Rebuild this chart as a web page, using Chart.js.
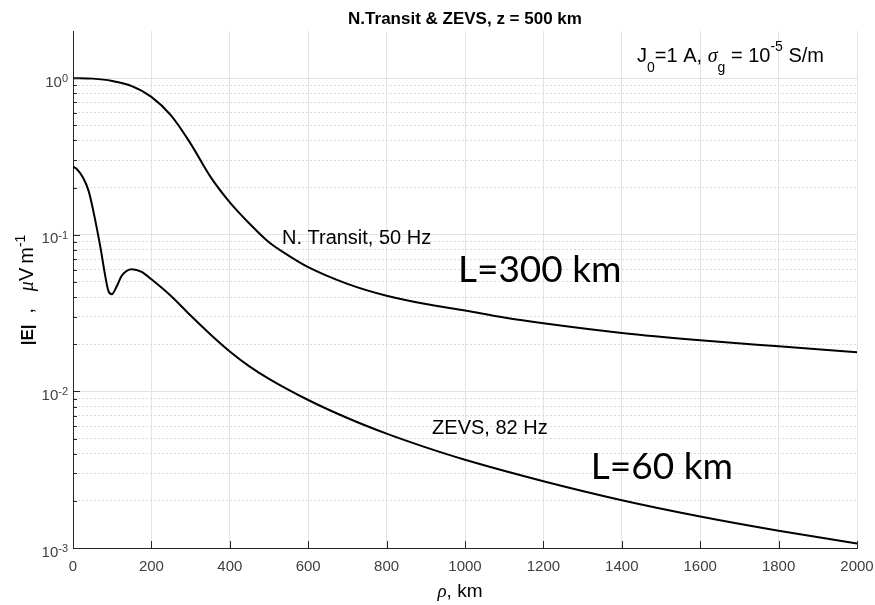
<!DOCTYPE html>
<html>
<head>
<meta charset="utf-8">
<script src="https://cdn.jsdelivr.net/npm/chart.js@4.4.1/dist/chart.umd.min.js"></script>
<style>
  html, body { margin: 0; padding: 0; background: #fff; }
</style>
</head>
<body>
<canvas id="chart" width="875" height="605"></canvas>
<script>
// distance rho (km) and |E| (uV/m)
const rhoTransit = [0, 50, 100, 150, 200, 250, 300, 350, 400, 450, 500, 550, 600, 700, 800, 900, 1000, 1100, 1200, 1400, 1600, 1800, 2000];
const eTransit = [1.0, 0.993, 0.96, 0.89, 0.759, 0.578, 0.382, 0.236, 0.161, 0.118, 0.0895, 0.0736, 0.0621, 0.0486, 0.0408, 0.0361, 0.0328, 0.0296, 0.0272, 0.0236, 0.0212, 0.0194, 0.0178];

const rhoZevs = [0, 10, 25, 40, 55, 70, 82, 90, 99, 110, 125, 150, 175, 200, 250, 300, 350, 400, 450, 500, 600, 700, 800, 900, 1000, 1200, 1400, 1600, 1800, 2000];
const eZevs = [0.272, 0.262, 0.233, 0.19, 0.13, 0.083, 0.055, 0.044, 0.0417, 0.046, 0.055, 0.0603, 0.058, 0.052, 0.0407, 0.0305, 0.0232, 0.018, 0.01445, 0.01202, 0.00881, 0.00676, 0.00537, 0.00439, 0.00366, 0.00267, 0.00202, 0.00159, 0.00129, 0.00107];

const xTicks = [0, 200, 400, 600, 800, 1000, 1200, 1400, 1600, 1800, 2000];
const yMajorTicks = [0.001, 0.01, 0.1, 1];
const yMinorTicks = [0.002, 0.003, 0.004, 0.005, 0.006, 0.007, 0.008, 0.009,
                     0.02, 0.03, 0.04, 0.05, 0.06, 0.07, 0.08, 0.09,
                     0.2, 0.3, 0.4, 0.5, 0.6, 0.7, 0.8, 0.9];

const SANS = "'Liberation Sans', Arial, Helvetica, sans-serif";
const GREEK = "'Liberation Serif', 'DejaVu Serif', serif";
const AXIS_COLOR = '#262626';

function isMajor(v) {
    const l = Math.log10(v);
    return Math.abs(l - Math.round(l)) < 1e-9;
}

// draw a run of text pieces: [text, font, dy]
function drawRich(ctx, parts, x, y, align) {
    let w = 0;
    parts.forEach(p => { ctx.font = p[1]; w += ctx.measureText(p[0]).width; });
    let cx = align === 'center' ? x - w / 2 : (align === 'right' ? x - w : x);
    ctx.textAlign = 'left';
    ctx.textBaseline = 'alphabetic';
    parts.forEach(p => {
        ctx.font = p[1];
        ctx.fillText(p[0], cx, y + (p[2] || 0));
        cx += ctx.measureText(p[0]).width;
    });
}

// MATLAB-style decorations: inward ticks, 10^n labels, titles and notes
const figureText = {
    id: 'figureText',
    afterDraw(chart) {
        const ctx = chart.ctx;
        const area = chart.chartArea;
        const xs = chart.scales.x;
        const ys = chart.scales.y;
        ctx.save();

        // inward tick marks
        ctx.strokeStyle = AXIS_COLOR;
        ctx.lineWidth = 1;
        ctx.beginPath();
        xs.ticks.forEach(t => {
            const px = Math.round(xs.getPixelForValue(t.value)) + 0.5;
            ctx.moveTo(px, area.bottom);
            ctx.lineTo(px, area.bottom - 7);
        });
        ys.ticks.forEach(t => {
            const py = Math.round(ys.getPixelForValue(t.value)) + 0.5;
            const len = isMajor(t.value) ? 7 : 4;
            ctx.moveTo(area.left, py);
            ctx.lineTo(area.left + len, py);
        });
        ctx.stroke();

        // y tick labels 10^n
        ctx.fillStyle = '#404040';
        yMajorTicks.forEach(v => {
            const py = ys.getPixelForValue(v);
            const e = String(Math.round(Math.log10(v)));
            drawRich(ctx, [['10', '15px ' + SANS], [e, '11px ' + SANS, -4.5]], area.left - 5, py + 8.5, 'right');
        });

        ctx.fillStyle = '#000';
        // title
        drawRich(ctx, [['N.Transit & ZEVS, z = 500 km', 'bold 17px ' + SANS]], (area.left + area.right) / 2, 24, 'center');

        // x axis title
        drawRich(ctx, [['\u03C1', 'italic 19px ' + GREEK], [', km', '19px ' + SANS]], (area.left + area.right) / 2 - 5, 597, 'center');

        // y axis title
        ctx.save();
        ctx.translate(33, 290);
        ctx.rotate(-Math.PI / 2);
        drawRich(ctx, [
            ['|E|', 'bold 17px ' + SANS],
            ['  ,   ', '20px ' + SANS],
            ['\u03BC', 'italic 20px ' + GREEK],
            ['V\u2009m', '20px ' + SANS],
            ['-1', '14px ' + SANS, -8]
        ], 0, 0, 'center');
        ctx.restore();

        // curve labels
        drawRich(ctx, [['N. Transit, 50 Hz', '20px ' + SANS]], xs.getPixelForValue(533), ys.getPixelForValue(0.087), 'left');
        drawRich(ctx, [['ZEVS, 82 Hz', '20px ' + SANS]], xs.getPixelForValue(916), ys.getPixelForValue(0.00531), 'left');
        drawRich(ctx, [['L=300 km', '37px Lato, ' + SANS]], xs.getPixelForValue(982), ys.getPixelForValue(0.0497), 'left');
        drawRich(ctx, [['L=60 km', '37px Lato, ' + SANS]], xs.getPixelForValue(1321), ys.getPixelForValue(0.00274), 'left');

        // source parameters
        drawRich(ctx, [
            ['J', '20px ' + SANS],
            ['0', '14px ' + SANS, 10],
            ['=1 A, ', '20px ' + SANS],
            ['\u03C3', 'italic 20px ' + GREEK],
            ['g', '14px ' + SANS, 10],
            [' = 10', '20px ' + SANS],
            ['-5', '14px ' + SANS, -11],
            [' S/m', '20px ' + SANS]
        ], xs.getPixelForValue(1439), ys.getPixelForValue(1.265), 'left');

        ctx.restore();
    }
};

new Chart(document.getElementById('chart'), {
    type: 'line',
    data: {
        datasets: [{
            label: 'N. Transit, 50 Hz',
            data: rhoTransit.map((r, i) => ({ x: r, y: eTransit[i] })),
            borderColor: '#000',
            borderWidth: 2,
            pointRadius: 0,
            cubicInterpolationMode: 'monotone',
            fill: false
        }, {
            label: 'ZEVS, 82 Hz',
            data: rhoZevs.map((r, i) => ({ x: r, y: eZevs[i] })),
            borderColor: '#000',
            borderWidth: 2,
            pointRadius: 0,
            cubicInterpolationMode: 'monotone',
            fill: false
        }]
    },
    options: {
        responsive: false,
        animation: false,
        devicePixelRatio: 1,
        layout: { padding: { top: 31, right: 18, left: 0, bottom: 0 } },
        plugins: {
            legend: { display: false },
            title: { display: false },
            tooltip: { enabled: false }
        },
        scales: {
            x: {
                type: 'linear',
                min: 0,
                max: 2000,
                afterBuildTicks: s => { s.ticks = xTicks.map(v => ({ value: v })); },
                ticks: {
                    font: { family: SANS, size: 15 },
                    color: '#404040',
                    padding: 10,
                    maxRotation: 0,
                    callback: v => String(v)
                },
                grid: { color: '#e3e3e3', drawTicks: false },
                border: { color: AXIS_COLOR, width: 1 },
                afterFit: s => {
                    s.height = 57;
                    s.paddingLeft = 0;
                    s.paddingRight = 0;
                }
            },
            y: {
                type: 'logarithmic',
                min: 0.001,
                max: 2,
                afterBuildTicks: s => {
                    s.ticks = yMajorTicks.concat(yMinorTicks).sort((a, b) => a - b).map(v => ({ value: v }));
                },
                ticks: { callback: () => '' },
                grid: {
                    color: c => isMajor(c.tick.value) ? '#e3e3e3' : '#dcdcdc',
                    drawTicks: false
                },
                border: {
                    color: AXIS_COLOR,
                    width: 1,
                    dash: c => (c.tick && !isMajor(c.tick.value)) ? [2, 2] : []
                },
                afterFit: s => {
                    s.width = 73;
                    s.paddingTop = 0;
                    s.paddingBottom = 0;
                }
            }
        }
    },
    plugins: [figureText]
});
</script>
</body>
</html>
